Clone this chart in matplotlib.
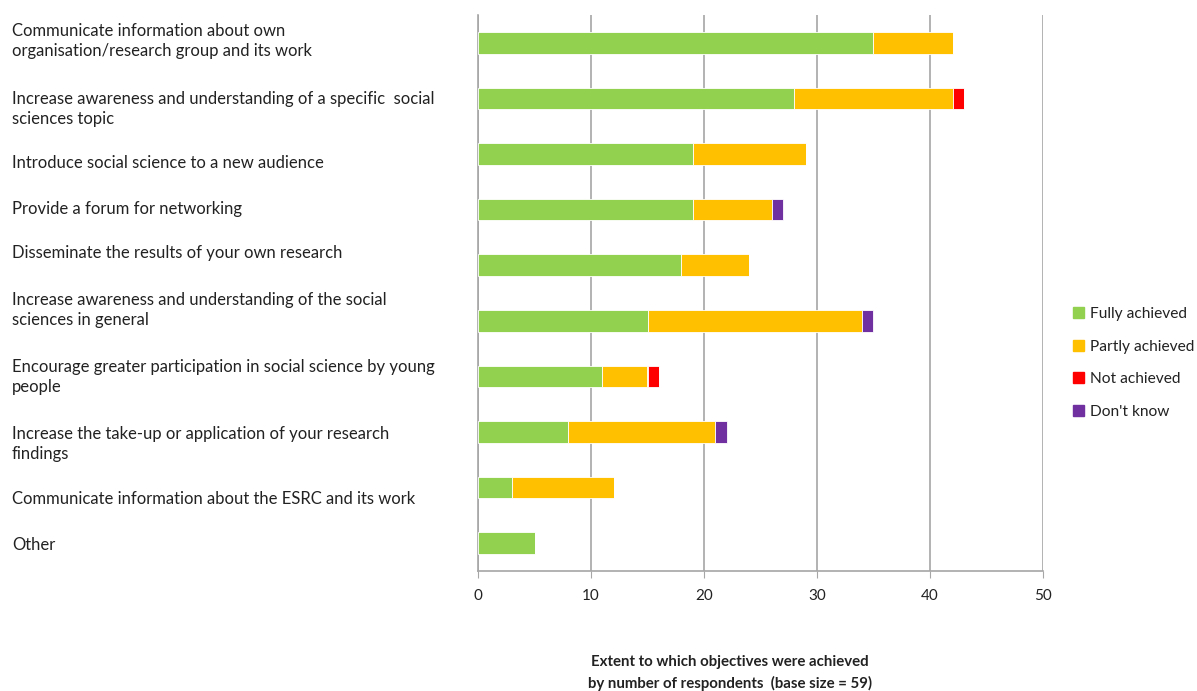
import numpy as np
import matplotlib
matplotlib.use("Agg")
import matplotlib.pyplot as plt
from matplotlib.patches import Rectangle

plt.rcParams["font.family"] = ["Lato", "DejaVu Sans"]

# Data (top to bottom)
categories = [
    "Communicate information about own\norganisation/research group and its work",
    "Increase awareness and understanding of a specific  social\nsciences topic",
    "Introduce social science to a new audience",
    "Provide a forum for networking",
    "Disseminate the results of your own research",
    "Increase awareness and understanding of the social\nsciences in general",
    "Encourage greater participation in social science by young\npeople",
    "Increase the take-up or application of your research\nfindings",
    "Communicate information about the ESRC and its work",
    "Other",
]
fully    = [35, 28, 19, 19, 18, 15, 11, 8, 3, 5]
partly   = [7, 14, 10, 7, 6, 19, 4, 13, 9, 0]
not_ach  = [0, 1, 0, 0, 0, 0, 1, 0, 0, 0]
dont_kn  = [0, 0, 0, 1, 0, 1, 0, 1, 0, 0]
series_names = ["Fully achieved", "Partly achieved", "Not achieved", "Don't know"]
colors = ["#92D050", "#FFC000", "#FF0000", "#7030A0"]
xticks = [0, 10, 20, 30, 40, 50]

# label vertical centres in pixels (text boxes are not aligned with bars)
label_y_px = [41, 109, 163, 209, 253, 310, 377, 444, 499, 545]

W, H = 1197, 691
fig = plt.figure(figsize=(W / 100, H / 100), dpi=100)
ax = fig.add_axes([478 / W, 1 - 571 / H, (1043 - 478) / W, (571 - 15) / H])

y = np.arange(len(categories))
left = np.zeros(len(categories))
for vals, name, c in zip([fully, partly, not_ach, dont_kn], series_names, colors):
    vals = np.array(vals, dtype=float)
    ax.barh(y, vals, left=left, height=0.39, color=c, edgecolor="white",
            linewidth=0.6, label=name, zorder=3)
    left += vals

ax.set_xlim(0, 50)
ax.set_ylim(len(categories) - 0.5, -0.5)
ax.set_xticks(xticks)
ax.set_yticks([])
ax.grid(axis="x", color="#A6A6A6", linewidth=1.2, zorder=0)
for s in ["top", "right"]:
    ax.spines[s].set_visible(False)
ax.spines["left"].set_color("#A6A6A6")
ax.spines["bottom"].set_color("#A6A6A6")
ax.spines["left"].set_linewidth(1.2)
ax.spines["bottom"].set_linewidth(1.2)
ax.tick_params(axis="x", direction="out", length=5, color="#A6A6A6",
               labelsize=11, pad=8, labelcolor="#222222")

for lab, py in zip(categories, label_y_px):
    fig.text(12 / W, 1 - py / H, lab, ha="left", va="center", fontsize=12,
             color="#222222", linespacing=1.35)

# legend
handles = [Rectangle((0, 0), 1, 1, color=c) for c in colors]
fig.legend(handles, series_names, loc="center left",
           bbox_to_anchor=(1067 / W, 1 - 363 / H), frameon=False,
           fontsize=11.2, handlelength=0.7, handleheight=0.7,
           handletextpad=0.35, labelspacing=1.2, labelcolor="#222222",
           borderaxespad=0.0)

fig.text(730 / W, 1 - 673 / H,
         "Extent to which objectives were achieved\nby number of respondents  (base size = 59)",
         ha="center", va="center", fontsize=10.8, fontweight="bold",
         color="#222222", linespacing=1.5)

fig.savefig("out.png", dpi=100)
